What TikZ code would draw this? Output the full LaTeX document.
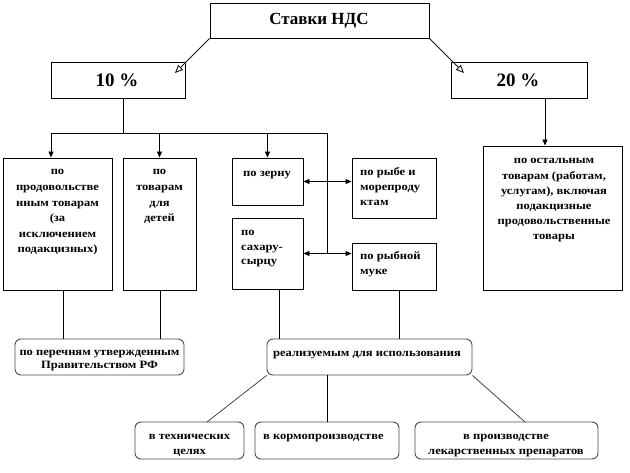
\documentclass[tikz,border=0pt]{standalone}
\usepackage{fontspec}
\setmainfont{Liberation Serif}
\newfontfamily\bxf{Liberation Serif}[FakeStretch=1.12]
\usetikzlibrary{arrows.meta}
\tikzset{
  box/.style={draw=black, line width=0.9pt, rectangle, inner sep=0pt},
  rbox/.style={draw=black!70, line width=0.9pt, rectangle, rounded corners=6pt, inner sep=0pt},
  txt/.style={inner sep=0pt, align=center, anchor=north, font=\bxf\bfseries\fontsize{11.2}{#1}\selectfont},
  ltxt/.style={inner sep=0pt, align=left, anchor=north west, font=\bxf\bfseries\fontsize{11.2}{#1}\selectfont},
  conn/.style={line width=0.9pt},
  arr/.style={line width=0.9pt, -{Triangle[length=6pt,width=5pt]}},
  darr/.style={line width=0.9pt, {Triangle[length=6pt,width=5pt]}-{Triangle[length=6pt,width=5pt]}},
  diag/.style={line width=0.7pt, draw=black!80},
  oarr/.style={line width=0.8pt, draw=black!90, -{Triangle[open,length=8pt,width=7pt,line width=0.9pt]}}
}
\begin{document}
\begin{tikzpicture}[x=1pt,y=-1pt]
\useasboundingbox (0,0) rectangle (630,473);
\fill[white] (0,0) rectangle (630,473);
% header boxes
\node[box, minimum width=219, minimum height=35] (top) at (319.5,20.5) {};
\node[inner sep=0pt, anchor=base, font=\bfseries\fontsize{17}{20}\selectfont] (topt) at (319,25) {Ставки НДС};
\node[box, minimum width=134, minimum height=36] (p10) at (118,80) {};
\node[inner sep=0pt, anchor=base, font=\bfseries\fontsize{19}{22}\selectfont] (p10t) at (117,87) {10 \%};
\node[box, minimum width=136, minimum height=36] (p20) at (519,80) {};
\node[inner sep=0pt, anchor=base, font=\bfseries\fontsize{19}{22}\selectfont] (p20t) at (518,87) {20 \%};
% middle row
\node[box, minimum width=109, minimum height=132] (b1) at (57.5,224) {};
\node[box, minimum width=73, minimum height=132] (b2) at (159.5,224) {};
\node[box, minimum width=71, minimum height=47] (b3) at (267.5,181.5) {};
\node[box, minimum width=71, minimum height=71] (b4) at (267.5,253.5) {};
\node[box, minimum width=84, minimum height=60] (b5) at (394,188) {};
\node[box, minimum width=84, minimum height=47] (b6) at (394,266.5) {};
\node[box, minimum width=139, minimum height=144] (b7) at (552.5,218) {};
\node[txt=15.6] (b1t) at (57.5,163.7) {\strut по\\продовольстве\\нным товарам\\(за\\исключением\\подакцизных)};
\node[txt=15.6] (b2t) at (159.5,163.7) {\strut по\\товарам\\для\\детей};
\node[txt=15] (b3t) at (267,166.1) {\strut по зерну};
\node[ltxt=14.5] (b4t) at (241,225.5) {\strut по\\сахару-\\сырцу};
\node[ltxt=15] (b5t) at (360,165.1) {\strut по рыбе и\\морепроду\\ктам};
\node[ltxt=15] (b6t) at (360,249.1) {\strut по рыбной\\муке};
\node[txt=15.2] (b7t) at (554,153) {\strut по остальным\\товарам (работам,\\услугам), включая\\подакцизные\\продовольственные\\товары};
% bottom rows
\node[rbox, minimum width=169, minimum height=36] (pr) at (99.5,357) {};
\node[rbox, minimum width=205, minimum height=36] (re) at (369.5,357) {};
\node[rbox, minimum width=109, minimum height=37] (t1) at (189.5,440.5) {};
\node[rbox, minimum width=144, minimum height=37] (t2) at (327,440.5) {};
\node[rbox, minimum width=183, minimum height=37] (t3) at (506.5,440.5) {};
\node[txt=13] (prt) at (99.5,346.5) {\strut по перечням утвержденным\\Правительством РФ};
\node[txt=14] (ret) at (367,346.8) {\strut реализуемым для использования};
\node[txt=14.5] (t1t) at (189.5,429.5) {\strut в технических\\целях};
\node[ltxt=14.5] (t2t) at (263,429.5) {\strut в кормопроизводстве};
\node[txt=15] (t3t) at (506,429.1) {\strut в производстве\\лекарственных препаратов};
% coordinates
\coordinate (a10) at (175,73);
\coordinate (a20) at (464,73);
\coordinate (bus0) at (123,133);
\coordinate (busL) at (51,133);
\coordinate (busR) at (327,133);
\coordinate (busE) at (327,254);
\coordinate (v20) at (545,98);
\coordinate (pr1) at (63,339);
\coordinate (pr2) at (160,339);
\coordinate (re1) at (279,339);
\coordinate (re2) at (399,339);
\coordinate (t1a) at (207,422);
\coordinate (t3a) at (525,422);
% connectors
\draw[oarr] (top.south west) -- (a10);
\draw[oarr] (top.south east) -- (a20);
\draw[conn] (p10.south -| bus0) -- (bus0);
\draw[conn] (busL) -- (busR) -- (busE);
\draw[arr] (busL) -- (b1.north -| busL);
\draw[arr] (b2.north |- busL) -- (b2.north);
\draw[arr] (b3.north |- busL) -- (b3.north);
\draw[darr] (b3.east) -- (b3.east -| b5.west);
\draw[darr] (b4.east) -- (b4.east -| b6.west);
\draw[arr] (v20) -- (b7.north -| v20);
\draw[conn] (pr1 |- b1.south) -- (pr1);
\draw[conn] (pr2 |- b2.south) -- (pr2);
\draw[conn] (re1 |- b4.south) -- (re1);
\draw[conn] (re2 |- b6.south) -- (re2);
\draw[diag] (re.south west) -- (t1a);
\draw[conn] (re.south -| t2.north) -- (t2.north);
\draw[diag] (re.south east) -- (t3a);
\end{tikzpicture}
\end{document}
